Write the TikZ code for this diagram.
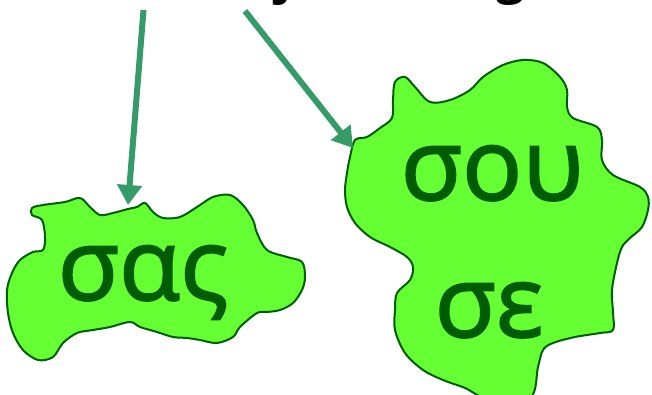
\documentclass[tikz,border=0pt]{standalone}
\usepackage{fontspec}
\setmainfont{Open Sans}
\newfontfamily\wordfont{Open Sans}[FakeBold=1.8]
\usepackage{xcolor}
\usepackage{tikz}
\usetikzlibrary{positioning,calc,arrows.meta}
\definecolor{BlobGreen}{RGB}{102,255,51}
\definecolor{BlobEdge}{RGB}{0,95,0}
\definecolor{WordGreen}{RGB}{0,92,0}
\definecolor{ArrowGreen}{RGB}{52,155,105}
\tikzset{
    blob/.style={draw=BlobEdge, fill=BlobGreen, line width=2pt},
    word/.style={text=WordGreen, font=\wordfont\fontsize{100}{100}\selectfont, inner sep=0pt, anchor=base},
    heading/.style={text=black, font=\bfseries\fontsize{50}{54}\selectfont, inner sep=0pt, anchor=base},
    pointer/.style={draw=ArrowGreen, line width=6pt, -{Triangle[length=20pt,width=24pt]}}
}

\begin{document}
\begin{tikzpicture}[x=1pt,y=-1pt]
    \useasboundingbox (0,0) rectangle (652,395);

    % 1. HEADING (cut at the top edge)
    \node[heading] (title) at (322,-6) {critical, adjacent regions};

    % 2. BLOBS
    \draw[blob] plot[smooth cycle, tension=0.55] coordinates {
        (32,208) (43,205) (65,202) (80,198) (90,207) (100,215) (113,213)
        (128,209) (137,207) (145,203) (153,212) (163,218) (180,217) (197,207)
        (213,197) (230,195) (243,205) (253,220) (257,233) (267,250) (287,257)
        (302,262) (305,277) (302,290) (293,303) (280,310) (267,312) (257,313)
        (240,327) (233,337) (217,343) (200,340) (187,338) (173,337) (157,332)
        (140,327) (130,322) (110,327) (93,330) (77,333) (63,343) (53,357)
        (38,360) (23,350) (13,333) (8,313) (7,290) (12,273) (20,260) (33,252)
        (43,250) (45,237) (42,220) (32,215)};
    \draw[blob] plot[smooth cycle, tension=0.55] coordinates {
        (355,140) (367,137) (380,128) (392,118) (393,100) (395,82) (405,77)
        (415,87) (430,102) (450,100) (470,90) (483,77) (503,65) (523,60)
        (543,63) (560,77) (567,90) (567,107) (573,118) (597,127) (602,140)
        (602,160) (613,175) (640,187) (648,197) (648,210) (642,227) (630,238)
        (622,247) (617,263) (612,290) (613,313) (613,330) (600,333) (575,337)
        (553,343) (543,350) (538,367) (530,398) (490,400) (465,388) (443,380)
        (423,370) (405,353) (395,330) (395,310) (397,293) (410,280) (413,267)
        (407,257) (390,247) (370,237) (355,223) (347,207) (345,190) (347,173)
        (350,157)};

    % 3. WORDS
    \node[word] (sas) at (143,300) {σας};
    \node[word] (sou) at (492,200) {σου};
    \node[word] (se) at (489,337) {σε};

    % 4. ARROWS
    \coordinate (tailL) at (143.5,10);
    \coordinate (tipL) at (128,205);
    \coordinate (tailR) at (245,11);
    \coordinate (tipR) at (353,148);
    \draw[pointer] (tailL) -- (tipL);
    \draw[pointer] (tailR) -- (tipR);

\end{tikzpicture}
\end{document}
